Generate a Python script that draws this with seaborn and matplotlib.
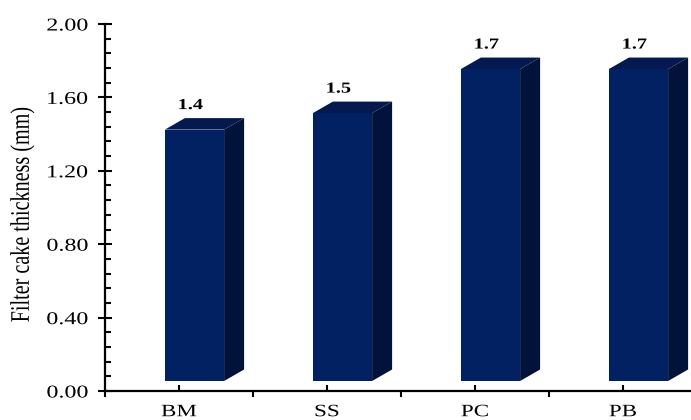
import numpy as np
import pandas as pd
import matplotlib
matplotlib.use("Agg")
import matplotlib.pyplot as plt
import seaborn as sns
from matplotlib.patches import Polygon
from matplotlib.patheffects import AbstractPathEffect
from matplotlib.transforms import ScaledTranslation, IdentityTransform, Affine2D
from matplotlib.ticker import MultipleLocator, FixedLocator

# ---- data ----
categories = ["BM", "SS", "PC", "PB"]
thickness = [1.37, 1.46, 1.70, 1.70]
value_labels = ["1.4", "1.5", "1.7", "1.7"]
yticks = [0.0, 0.4, 0.8, 1.2, 1.6, 2.0]
ytick_labels = ["0.00", "0.40", "0.80", "1.20", "1.60", "2.00"]
ylabel = "Filter cake thickness (mm)"

FRONT = "#022163"
TOP = "#03194f"
SIDE = "#01133a"


class Stretch(AbstractPathEffect):
    """Widen glyphs (the reference image is horizontally stretched)."""

    def __init__(self, sx=1.0, sy=1.0, anchor="center"):
        super().__init__()
        self.sx, self.sy, self.anchor = sx, sy, anchor

    def draw_path(self, renderer, gc, tpath, affine, rgbFace=None):
        ext = tpath.get_extents()
        if self.anchor == "right":
            ax_ = ext.x1
        elif self.anchor == "left":
            ax_ = ext.x0
        else:
            ax_ = (ext.x0 + ext.x1) / 2
        ay = (ext.y0 + ext.y1) / 2
        pre = Affine2D().translate(-ax_, -ay).scale(self.sx, self.sy).translate(ax_, ay)
        renderer.draw_path(gc, tpath, pre + affine, rgbFace)


SX = 1.33

sns.set_theme(style="ticks")
plt.rcParams["font.family"] = ["Liberation Serif", "DejaVu Serif"]

DPI = 100
W, H = 691, 420
fig = plt.figure(figsize=(W / DPI, H / DPI), dpi=DPI)
ax = fig.add_axes([105 / W, 29 / H, 592 / W, 367 / H])

df = pd.DataFrame({"cat": categories, "val": thickness})
sns.barplot(data=df, x="cat", y="val", order=categories, color=FRONT,
            saturation=1, width=0.4, ax=ax, zorder=3, edgecolor="none")

ax.set_xlim(-0.5, 3.5)
ax.set_ylim(0, 2.0)
for s in ["top", "right"]:
    ax.spines[s].set_visible(False)
for s in ["left", "bottom"]:
    ax.spines[s].set_linewidth(1.6)
    ax.spines[s].set_color("black")

# 3D-like extrusion derived from the seaborn bar patches
DX, DY = 20.0, 11.5
shift = ScaledTranslation(15.5 / DPI, 10.0 / DPI, fig.dpi_scale_trans)
for patch, lab in zip(ax.patches, value_labels):
    tr = ax.transData + shift
    patch.set_transform(tr)
    x0, y0 = patch.get_x(), patch.get_y()
    w, h = patch.get_width(), patch.get_height()
    (dx0, dyb), (dx1, dyt) = tr.transform([(x0, y0), (x0 + w, y0 + h)])
    side = Polygon([(dx1, dyb), (dx1 + DX, dyb + DY), (dx1 + DX, dyt + DY), (dx1, dyt)],
                   closed=True, facecolor=SIDE, edgecolor="none",
                   transform=IdentityTransform(), zorder=3)
    top = Polygon([(dx0, dyt), (dx1, dyt), (dx1 + DX, dyt + DY), (dx0 + DX, dyt + DY)],
                  closed=True, facecolor=TOP, edgecolor="none",
                  transform=IdentityTransform(), zorder=3)
    ax.add_patch(side)
    ax.add_patch(top)
    t = ax.text((dx0 + dx1) / 2 - 4, dyt + DY + 6, lab, transform=IdentityTransform(),
                ha="center", va="bottom", fontsize=11, fontweight="bold", color="black")
    t.set_path_effects([Stretch(sx=SX, anchor="center")])

# ticks
ax.yaxis.set_major_locator(FixedLocator(yticks))
ax.set_yticklabels(ytick_labels)
ax.yaxis.set_minor_locator(MultipleLocator(0.08))
ax.tick_params(axis="y", which="major", direction="inout", length=10, width=1.5,
               labelsize=13, pad=7.5, color="black", labelcolor="black")
ax.tick_params(axis="y", which="minor", direction="in", length=4, width=1.5, color="black")

ax.xaxis.set_minor_locator(FixedLocator([-0.5, 0.5, 1.5, 2.5, 3.5]))
ax.tick_params(axis="x", which="major", direction="in", length=4, width=1.5,
               labelsize=12.5, pad=9.5, color="black", labelcolor="black")
ax.tick_params(axis="x", which="minor", direction="out", length=4, width=1.5, color="black")

for tk in ax.yaxis.get_major_ticks():
    tk.label1.set_path_effects([Stretch(sx=SX, anchor="right")])
for tk in ax.xaxis.get_major_ticks():
    tk.label1.set_path_effects([Stretch(sx=SX, anchor="center")])

ax.set_xlabel("")
ax.set_ylabel(ylabel, fontsize=14.5, color="black")
ax.yaxis.label.set_path_effects([Stretch(sy=SX, anchor="center")])
ax.yaxis.set_label_coords(-0.123, 0.48)

fig.savefig("out.png", dpi=DPI)
